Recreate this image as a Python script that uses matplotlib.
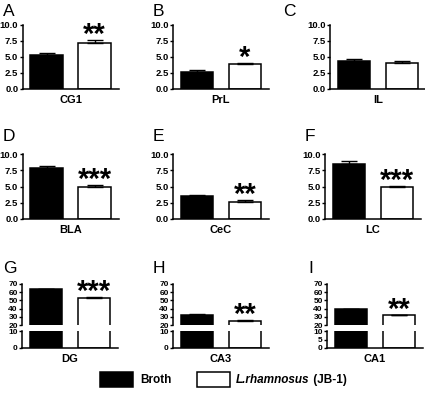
import numpy as np
import matplotlib
matplotlib.use("Agg")
import matplotlib.pyplot as plt
from matplotlib.ticker import FormatStrFormatter
from matplotlib.patches import Rectangle

plt.rcParams['font.family'] = ['Liberation Sans', 'DejaVu Sans']
plt.rcParams['font.weight'] = 'bold'

# ---- data ----
regions = ['CG1', 'PrL', 'IL', 'BLA', 'CeC', 'LC', 'DG', 'CA3', 'CA1']
letters = ['A', 'B', 'C', 'D', 'E', 'F', 'G', 'H', 'I']
broth = [5.25, 2.72, 4.3, 7.85, 3.6, 8.4, 63.5, 32.2, 39.2]
broth_err = [0.45, 0.25, 0.4, 0.25, 0.12, 0.6, 0.5, 0.8, 0.8]
jb1 = [7.25, 3.85, 4.1, 4.95, 2.67, 4.85, 52.8, 24.5, 31.8]
jb1_err = [0.35, 0.15, 0.25, 0.25, 0.22, 0.2, 1.0, 1.6, 0.7]
stars = ['**', '*', '', '***', '**', '***', '***', '**', '**']
lower_ticks = {'DG': [0, 10], 'CA3': [0, 10], 'CA1': [0, 5, 10]}

W, H = 425, 400
fig = plt.figure(figsize=(W / 100, H / 100), dpi=100)

def fx(px):
    return px / W

def fy(py):
    return 1 - py / H

# axes geometry in pixels
col_left = [[22.5, 173, 330], [22.5, 173, 325], [22, 173, 327]]
ax_w = 96
row_top = [25, 154]
row_bot = [89, 219]
letter_x = [[3, 153, 283], [3, 153, 305], [3, 153, 308]]
letter_top = [4, 129, 261]

xpos = np.array([0, 1])
bw = 0.68


def style(ax):
    for s in ['top', 'right']:
        ax.spines[s].set_visible(False)
    for s in ['left', 'bottom']:
        ax.spines[s].set_linewidth(1.1)
    ax.tick_params(axis='y', length=2.5, width=1, labelsize=6.8, pad=0.5)
    ax.set_xticks([])
    ax.set_xlim(-0.5, 1.5)


def draw_bars(ax, i, with_err=True):
    ax.bar(xpos, [broth[i], jb1[i]], width=bw, color=['black', 'white'],
           edgecolor='black', linewidth=1.1, zorder=2)
    if with_err:
        ax.errorbar(xpos, [broth[i], jb1[i]],
                    yerr=[[0, 0], [broth_err[i], jb1_err[i]]],
                    fmt='none', ecolor='black', elinewidth=1,
                    capsize=6, capthick=1, zorder=3)


def add_stars(ax, i):
    if stars[i]:
        ax.annotate(stars[i], xy=(1, jb1[i] + jb1_err[i]), xytext=(0, -2),
                    textcoords='offset points', ha='center', va='baseline',
                    fontsize=21, fontweight='bold')


for i, reg in enumerate(regions):
    r, c = divmod(i, 3)
    left = col_left[r][c]
    if r < 2:
        ax = fig.add_axes([fx(left), fy(row_bot[r]), fx(ax_w),
                           (row_bot[r] - row_top[r]) / H])
        style(ax)
        draw_bars(ax, i)
        ax.set_ylim(0, 10)
        ax.set_yticks([0, 2.5, 5, 7.5, 10])
        ax.yaxis.set_major_formatter(FormatStrFormatter('%.1f'))
        add_stars(ax, i)
        ax.set_xlabel(reg, fontsize=8, fontweight='bold', labelpad=4)
    else:
        # broken axis: upper 20-70, lower 0-10
        up = fig.add_axes([fx(left), fy(325), fx(ax_w), (325 - 284) / H])
        lo = fig.add_axes([fx(left), fy(348), fx(ax_w), (348 - 331) / H])
        style(up)
        style(lo)
        up.spines['bottom'].set_visible(False)
        draw_bars(up, i)
        draw_bars(lo, i, with_err=False)
        up.set_ylim(20, 70)
        up.set_yticks(np.arange(20, 71, 10))
        lo.set_ylim(0, 10)
        lo.set_yticks(lower_ticks[reg])
        up.tick_params(axis='y', labelsize=6, pad=0.5)
        lo.tick_params(axis='y', labelsize=6, pad=0.5)
        add_stars(up, i)
        lo.set_xlabel(reg, fontsize=8, fontweight='bold', labelpad=4)
    fig.text(fx(letter_x[r][c]), fy(letter_top[r]), letters[i], fontsize=12.5,
             fontweight='normal', ha='left', va='top')

# legend
fig.add_artist(Rectangle((fx(100), fy(387)), fx(33), (387 - 372) / H,
                         facecolor='black', edgecolor='black', lw=1.1,
                         transform=fig.transFigure))
fig.text(fx(140), fy(380), 'Broth', fontsize=8.5, fontweight='bold',
         ha='left', va='center')
fig.add_artist(Rectangle((fx(197), fy(387)), fx(33), (387 - 372) / H,
                         facecolor='white', edgecolor='black', lw=1.1,
                         transform=fig.transFigure))
t1 = fig.text(fx(236), fy(380), 'L.rhamnosus', fontsize=8.5,
              fontweight='bold', style='italic', ha='left', va='center')
fig.canvas.draw()
bb = t1.get_window_extent(renderer=fig.canvas.get_renderer())
fig.text(bb.x1 / W, fy(380), ' (JB-1)', fontsize=8.5, fontweight='bold',
         ha='left', va='center')

fig.savefig('out.png', dpi=100)
